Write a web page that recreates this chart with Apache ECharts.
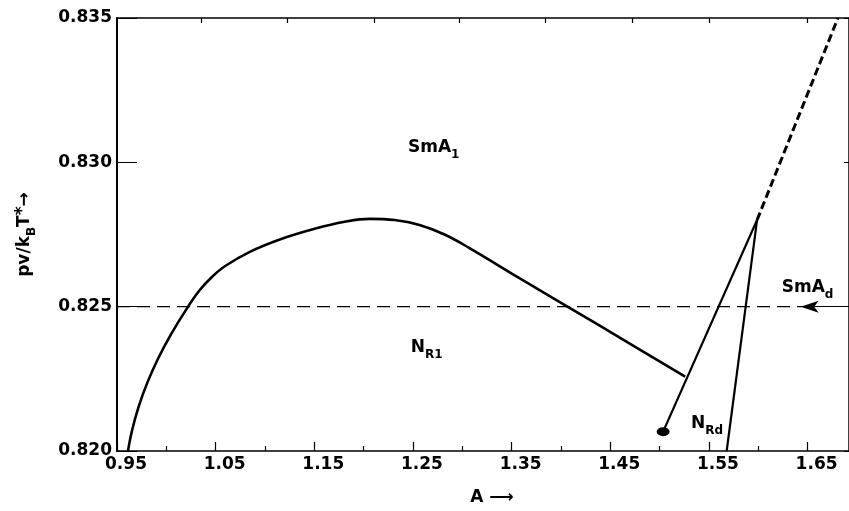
<!DOCTYPE html>
<html>
<head>
<meta charset="utf-8">
<script src="https://cdn.jsdelivr.net/npm/echarts@6/dist/echarts.min.js"></script>
<style>html,body{margin:0;padding:0;background:#fff}#c{width:849px;height:511px}</style>
</head>
<body>
<div id="c"></div>
<script>
// ---- data ----
const xTickLabels = [0.95, 1.05, 1.15, 1.25, 1.35, 1.45, 1.55, 1.65];
const xMinorTicks = [1.00, 1.10, 1.20, 1.30, 1.40, 1.50, 1.60];
const xTopTicks = [1.035, 1.123, 1.211, 1.297, 1.384, 1.472, 1.55, 1.65];
const yTickLabels = [0.820, 0.825, 0.830, 0.835];

// SmA1 / N_R1 boundary
const smaBoundaryA = [0.96113, 0.96518, 0.97196, 0.98087, 0.99180, 1.00486, 1.01994, 1.03350, 1.0462, 1.0593, 1.0846, 1.1150, 1.1504, 1.1808, 1.2061, 1.2314, 1.2567, 1.2820, 1.3073, 1.3579, 1.4389, 1.5259];
const smaBoundaryP = [0.82000, 0.820703, 0.821540, 0.822377, 0.823214, 0.824051, 0.824888, 0.825558, 0.826027, 0.82640, 0.82690, 0.82733, 0.82770, 0.82794, 0.82804, 0.82800, 0.82783, 0.82750, 0.82703, 0.82599, 0.82435, 0.82258];
// N_R1 / N_Rd boundary (from critical point to triple point)
const nrdLeftA = [1.5036, 1.5988];
const nrdLeftP = [0.82067, 0.8280];
// N_Rd / SmA_d boundary
const nrdRightA = [1.568, 1.5988];
const nrdRightP = [0.8200, 0.8280];
// dashed continuation
const extA = [1.5988, 1.6808];
const extP = [0.8280, 0.8350];
// isobar pv/kT* = 0.825
const isobarA = [0.95, 1.645];
const isobarP = [0.825, 0.825];
const isobarArrowA = [1.692, 1.643];
// critical point
const criticalA = [1.5036];
const criticalP = [0.82067];
// region labels
const regionNames = ['SmA1', 'NR1', 'SmAd', 'NRd'];
const regionText = ['{m|SmA}{s|1}', '{m|N}{s|R1}', '{m|SmA}{s|d}', '{m|N}{s|Rd}'];
const regionA = [1.271, 1.264, 1.650, 1.548];
const regionP = [0.83040, 0.82348, 0.82556, 0.82084];

const zip = (a, b) => a.map((v, i) => [v, b[i]]);
const FONT = 'DejaVu Sans';
const richStyles = {
  m: { fontFamily: FONT, fontSize: 17, fontWeight: 'bold', color: '#000', padding: [0, 0, 6, 0] },
  s: { fontFamily: FONT, fontSize: 12, fontWeight: 'bold', color: '#000', padding: [9, 0, 0, 0] },
  sup: { fontFamily: FONT, fontSize: 17, fontWeight: 'bold', color: '#000', padding: [0, 0, 10, 0] }
};

const chart = echarts.init(document.getElementById('c'), null, { renderer: 'canvas' });
const XMIN = 0.95, XMAX = 1.692;

chart.setOption({
  animation: false,
  backgroundColor: '#fff',
  grid: { left: 117, right: -1, top: 18, bottom: 45, containLabel: false },
  xAxis: [
    {
      type: 'value', min: XMIN, max: XMAX, position: 'bottom',
      name: 'A ⟶', nameLocation: 'middle', nameGap: 38,
      nameTextStyle: { fontFamily: FONT, fontSize: 17, fontWeight: 'bold', color: '#000', padding: [0, 0, 0, 18] },
      axisLine: { show: true, onZero: false, lineStyle: { color: '#000', width: 1.5 } },
      axisTick: { show: true, inside: true, length: 9, customValues: xTickLabels, lineStyle: { color: '#000', width: 1.2 } },
      axisLabel: { show: true, customValues: xTickLabels, formatter: v => v.toFixed(2), margin: 5,
        fontFamily: FONT, fontSize: 17, fontWeight: 'bold', color: '#000', padding: [0, 0, 0, 18] },
      splitLine: { show: false }
    },
    {
      type: 'value', min: XMIN, max: XMAX, position: 'bottom',
      axisLine: { show: false, onZero: false },
      axisTick: { show: true, inside: true, length: 5, customValues: xMinorTicks, lineStyle: { color: '#000', width: 1.2 } },
      axisLabel: { show: false }, splitLine: { show: false }
    },
    {
      type: 'value', min: XMIN, max: XMAX, position: 'top',
      axisLine: { show: true, onZero: false, lineStyle: { color: '#000', width: 1.5 } },
      axisTick: { show: true, inside: true, length: 5, customValues: xTopTicks, lineStyle: { color: '#000', width: 1.2 } },
      axisLabel: { show: false }, splitLine: { show: false }
    }
  ],
  yAxis: [
    {
      type: 'value', min: 0.82, max: 0.835, interval: 0.005, position: 'left',
      name: '{m|pv/k}{s|B}{m|T}{sup|*}{m|→}', nameLocation: 'middle', nameGap: 76, nameRotate: 90,
      nameTextStyle: { rich: richStyles },
      axisLine: { show: true, onZero: false, lineStyle: { color: '#000', width: 2 } },
      axisTick: { show: true, inside: true, length: 20, lineStyle: { color: '#000', width: 1 } },
      axisLabel: { show: true, formatter: v => v.toFixed(3), margin: 5,
        fontFamily: FONT, fontSize: 17, fontWeight: 'bold', color: '#000' },
      splitLine: { show: false }
    },
    {
      type: 'value', min: 0.82, max: 0.835, interval: 0.005, position: 'right',
      axisLine: { show: true, onZero: false, lineStyle: { color: '#000', width: 1.5 } },
      axisTick: { show: true, inside: true, length: 5, lineStyle: { color: '#000', width: 1 } },
      axisLabel: { show: false }, splitLine: { show: false }
    }
  ],
  series: [
    {
      name: 'SmA1-NR1', type: 'line', data: zip(smaBoundaryA, smaBoundaryP),
      smooth: 0.4, symbol: 'none', lineStyle: { color: '#000', width: 2.6 }, z: 3
    },
    {
      name: 'NR1-NRd', type: 'line', data: zip(nrdLeftA, nrdLeftP),
      symbol: 'none', lineStyle: { color: '#000', width: 2.2 }, z: 3
    },
    {
      name: 'NRd-SmAd', type: 'line', data: zip(nrdRightA, nrdRightP),
      symbol: 'none', lineStyle: { color: '#000', width: 2.2 }, z: 3
    },
    {
      name: 'continuation', type: 'line', data: zip(extA, extP),
      symbol: 'none', lineStyle: { color: '#000', width: 3, type: [8, 4] }, z: 3
    },
    {
      name: 'isobar', type: 'line', data: zip(isobarA, isobarP),
      symbol: 'none', lineStyle: { color: '#000', width: 1.2, type: [13, 7] }, z: 2,
      markLine: {
        silent: true, symbol: ['none', 'arrow'], symbolSize: [9, 18],
        label: { show: false },
        lineStyle: { color: '#000', width: 1.2, type: 'solid' },
        itemStyle: { color: '#000' },
        data: [[{ coord: [isobarArrowA[0], isobarP[0]] }, { coord: [isobarArrowA[1], isobarP[0]] }]]
      }
    },
    {
      name: 'critical point', type: 'scatter', data: zip(criticalA, criticalP),
      symbol: 'circle', symbolSize: [13, 9], itemStyle: { color: '#000', opacity: 1 }, z: 4
    },
    {
      name: 'regions', type: 'scatter',
      data: regionA.map((a, i) => ({ name: regionNames[i], value: [a, regionP[i]], label: { formatter: regionText[i] } })),
      symbolSize: 0, itemStyle: { color: 'transparent', opacity: 1 },
      label: { show: true, position: 'inside', color: '#000', opacity: 1, textBorderWidth: 0, rich: richStyles }, z: 5
    }
  ]
});
</script>
</body>
</html>
